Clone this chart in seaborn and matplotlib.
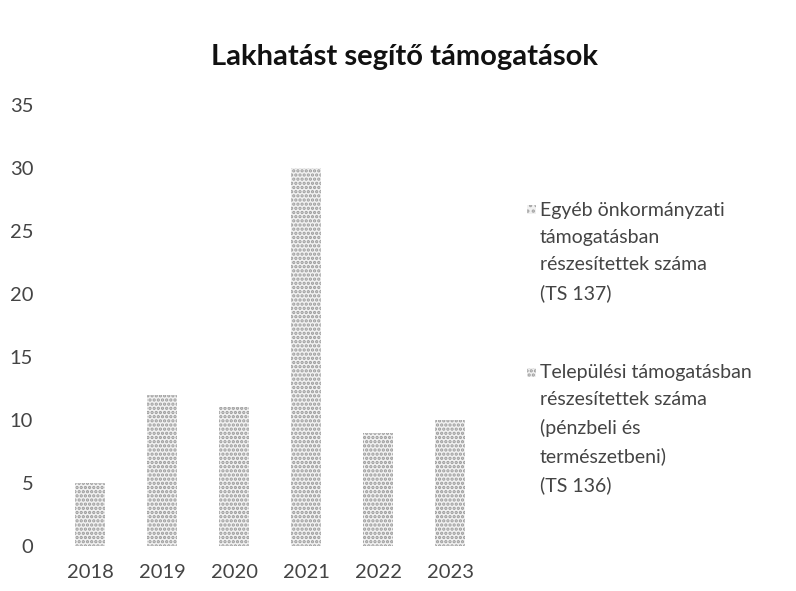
import matplotlib
matplotlib.use("Agg")
import matplotlib.pyplot as plt
import matplotlib.patches as mpatches
import seaborn as sns
import pandas as pd

years = ["2018", "2019", "2020", "2021", "2022", "2023"]
telepulesi = [5, 12, 11, 30, 9, 10]
egyeb = [0, 0, 0, 0, 0, 0]
series_labels = [
    "Egyéb önkormányzati\ntámogatásban\nrészesítettek száma\n(TS 137)",
    "Települési támogatásban\nrészesítettek száma\n(pénzbeli és\ntermészetbeni)\n(TS 136)",
]
title = "Lakhatást segítő támogatások"
yticks = [0, 5, 10, 15, 20, 25, 30, 35]

sns.set_theme(style="white")
plt.rcParams["font.family"] = ["Lato", "DejaVu Sans"]
plt.rcParams["hatch.linewidth"] = 1.6

df = pd.DataFrame({"year": years, "Települési": telepulesi, "Egyéb": egyeb})

fig = plt.figure(figsize=(7.96, 5.91), dpi=100)
ax = fig.add_axes([54 / 796, 1 - 546 / 591, (486 - 54) / 796, (546 - 105) / 591])

face = "#f1f1f1"
hatch_col = "#9a9a9a"
sns.barplot(data=df, x="year", y="Települési", ax=ax, color=face, width=0.42,
            saturation=1, edgecolor=hatch_col, linewidth=0, hatch="....")
sns.barplot(data=df, x="year", y="Egyéb", ax=ax, color=face, width=0.42,
            saturation=1, edgecolor=hatch_col, linewidth=0, hatch="...")

ax.set_ylim(0, 35)
ax.set_xlim(-0.5, 5.5)
ax.set_yticks(yticks)
ax.set_yticklabels([str(v) for v in yticks])
ax.set_xlabel("")
ax.set_ylabel("")
for s in ax.spines.values():
    s.set_visible(False)
ax.tick_params(axis="both", length=0, labelsize=14.5, colors="#444444")
ax.tick_params(axis="y", pad=15)
ax.tick_params(axis="x", pad=13)
ax.grid(False)

fig.text(405 / 796, 1 - 57 / 591, title, ha="center", va="center",
         fontsize=21, fontweight="bold", color="#111111")

# legend drawn manually: marker beside the first line of each label
handle_styles = [
    dict(facecolor=face, edgecolor="#a8a8a8", hatch="...", linewidth=0),
    dict(facecolor=face, edgecolor=hatch_col, hatch="....", linewidth=0),
]
first_line_y = [210, 372]
for label, st, yc in zip(series_labels, handle_styles, first_line_y):
    fy = 1 - yc / 591
    rect = mpatches.Rectangle((527 / 796, fy - 4.5 / 591), 9 / 796, 9 / 591,
                              transform=fig.transFigure, **st)
    fig.patches.append(rect)
    fig.text(540 / 796, fy + 8 / 591, label, ha="left", va="top",
             fontsize=14, color="#444444", linespacing=1.72)

fig.savefig("out.png", dpi=100)
